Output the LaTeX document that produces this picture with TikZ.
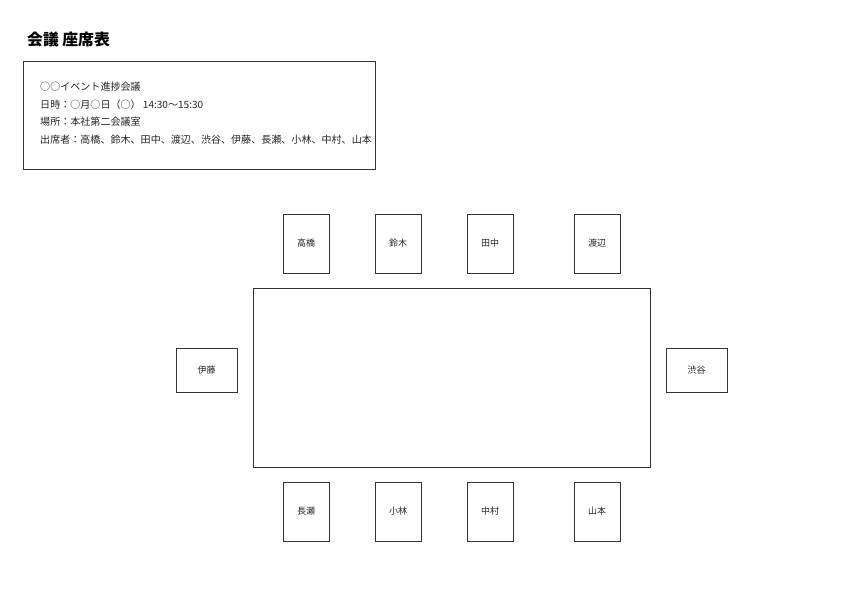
\documentclass[tikz,border=0pt]{standalone}
\usepackage{fontspec}
\setmainfont{Noto Sans CJK JP}
\newfontfamily\jp{Noto Sans CJK JP}
\begin{document}
\begin{tikzpicture}[x=1pt,y=-1pt,
  seat/.style={draw=black!80, line width=1pt, fill=white, inner sep=0pt},
  lbl/.style={font=\jp\fontsize{9}{10}\selectfont, text=black!85},
  info/.style={font=\jp\fontsize{10.05}{11}\selectfont, text=black!85, anchor=west, inner sep=0pt}]
\useasboundingbox (0,0) rectangle (842,595);
\node[anchor=west, inner sep=0pt, font=\jp\bfseries\fontsize{15.8}{17}\selectfont] (title) at (27,40) {会議 座席表};
\node[seat, minimum width=352pt, minimum height=108pt, anchor=north west] (infobox) at (23,61) {};
\node[info] (l1) at (40,87) {○○イベント進捗会議};
\node[info] (l2) at (40,105) {日時：○月○日（○） 14:30〜15:30};
\node[info] (l3) at (40,122) {場所：本社第二会議室};
\node[info] (l4) at (40,140) {出席者：高橋、鈴木、田中、渡辺、渋谷、伊藤、長瀬、小林、中村、山本};
\node[seat, minimum width=397pt, minimum height=179pt] (table) at (451.5,377.5) {};
\foreach \n/\x/\t in {a/306/高橋, b/398/鈴木, c/490/田中, d/597/渡辺}
  \node[seat, minimum width=46pt, minimum height=59pt] (\n) at (\x,243.5) {};
\foreach \n/\x/\t in {a/306/高橋, b/398/鈴木, c/490/田中, d/597/渡辺}
  \node[lbl] (\n t) at (\x,243.5) {\t};
\foreach \n/\x/\t in {e/306/長瀬, f/398/小林, g/490/中村, h/597/山本}
  \node[seat, minimum width=46pt, minimum height=59pt] (\n) at (\x,511.5) {};
\foreach \n/\x/\t in {e/306/長瀬, f/398/小林, g/490/中村, h/597/山本}
  \node[lbl] (\n t) at (\x,511.5) {\t};
\node[seat, minimum width=61pt, minimum height=44pt] (ito) at (206.5,370) {};
\node[lbl] (itot) at (206.5,370) {伊藤};
\node[seat, minimum width=61pt, minimum height=44pt] (shibuya) at (696.5,370) {};
\node[lbl] (shibuyat) at (696.5,370) {渋谷};
\end{tikzpicture}
\end{document}
